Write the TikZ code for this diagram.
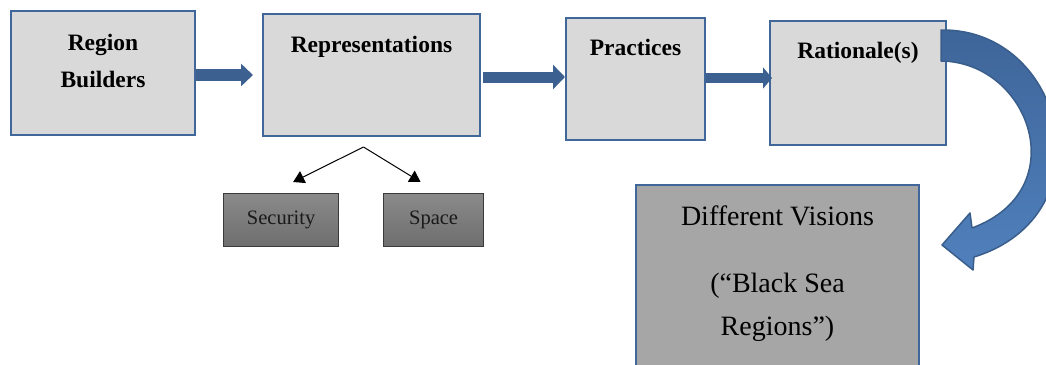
\documentclass[tikz,border=0pt]{standalone}
\usepackage{fontspec}
\setmainfont{Liberation Serif}
\usetikzlibrary{arrows.meta,calc}
\definecolor{boxblue}{HTML}{41679A}
\definecolor{boxfill}{HTML}{D9D9D9}
\definecolor{arrowblue}{HTML}{3C6190}
\definecolor{dvfill}{HTML}{A6A6A6}
\definecolor{subtop}{HTML}{8A8A8A}
\definecolor{subbot}{HTML}{6E6E6E}
\definecolor{subedge}{HTML}{3A3A3A}
\definecolor{curvetop}{HTML}{3E6599}
\definecolor{curvebot}{HTML}{5080BC}
\definecolor{curveedge}{HTML}{3A5E8C}
\begin{document}
\begin{tikzpicture}[x=1pt,y=-1pt,
  topbox/.style={draw=boxblue, line width=2pt, fill=boxfill, anchor=north west, inner sep=0pt},
  dvbox/.style={draw=boxblue, line width=2pt, fill=dvfill, anchor=north west, inner sep=0pt},
  subbox/.style={draw=subedge, line width=1.2pt, top color=subtop, bottom color=subbot, anchor=north west, inner sep=0pt,
    font=\fontsize{20.5}{24}\selectfont, text=black!90},
  boldlbl/.style={anchor=base, font=\fontsize{23.5}{28}\selectfont\bfseries},
  dvlbl/.style={anchor=base, font=\fontsize{28}{32}\selectfont},
  fatarrow/.style={draw=arrowblue, color=arrowblue},
  thinarrow/.style={line width=1pt, -{Triangle[length=11pt,width=13pt]}}
]
\useasboundingbox (0,0) rectangle (1046,364);
\clip (0,0) rectangle (1046,364);

% top boxes
\node[topbox, minimum width=184pt, minimum height=124pt,
  label={[boldlbl, yshift=-40pt]north:Region},
  label={[boldlbl, yshift=-77pt]north:Builders}] (rb) at (10,10) {};
\node[topbox, minimum width=217pt, minimum height=122pt,
  label={[boldlbl, yshift=-39pt]north:Representations}] (rep) at (262,13) {};
\node[topbox, minimum width=139pt, minimum height=122pt,
  label={[boldlbl, yshift=-38pt]north:Practices}] (pra) at (565,17) {};
\node[topbox, minimum width=176pt, minimum height=124pt,
  label={[boldlbl, yshift=-38pt]north:Rationale(s)}] (rat) at (769,20) {};

% sub boxes
\node[subbox, minimum width=115pt, minimum height=53pt] (sec) at (223,193) {Security};
\node[subbox, minimum width=100pt, minimum height=53pt] (spa) at (383,193) {Space};

% result box
\node[dvbox, minimum width=283pt, minimum height=200pt,
  label={[dvlbl, yshift=-41pt]north:Different Visions},
  label={[dvlbl, yshift=-108pt]north:(“Black Sea},
  label={[dvlbl, yshift=-151pt]north:Regions”)}] (dv) at (635,184) {};

% straight fat arrows
\coordinate (a1) at ([yshift=-2pt]rb.east);
\draw[fatarrow, line width=12pt, -{Triangle[length=12pt,width=22pt]}, shorten >=9pt] (a1) -- (a1 -| rep.west);
\coordinate (a2) at ([xshift=2pt,yshift=-2pt]rep.east);
\draw[fatarrow, line width=11pt, -{Triangle[length=12pt,width=24pt]}] (a2) -- (a2 -| pra.west);
\coordinate (a3) at ([yshift=1pt]pra.east);
\draw[fatarrow, line width=10.5pt, -{Triangle[length=9pt,width=21pt]}, shorten >=-3pt] (a3) -- (a3 -| rat.west);

% fork arrows to Security / Space
\coordinate (fork) at ($(rep.south)+(-8,10)$);
\coordinate (t1) at ($(sec.north)+(12,-11)$);
\coordinate (t2) at ($(spa.north)+(-13,-11)$);
\draw[thinarrow] (fork) -- (t1);
\draw[thinarrow] (fork) -- (t2);

% curved arrow from Rationale(s) to Different Visions
\shade[top color=curvetop, bottom color=curvebot, draw=curveedge, line width=1.5pt, line join=round]
  (941,30) .. controls (1065,28) and (1110,215) .. (974,257)
  -- (973,270) -- (942,245) -- (970,213) -- (972,228)
  .. controls (1075,190) and (1030,62) .. (941,61) -- cycle;
\end{tikzpicture}
\end{document}
